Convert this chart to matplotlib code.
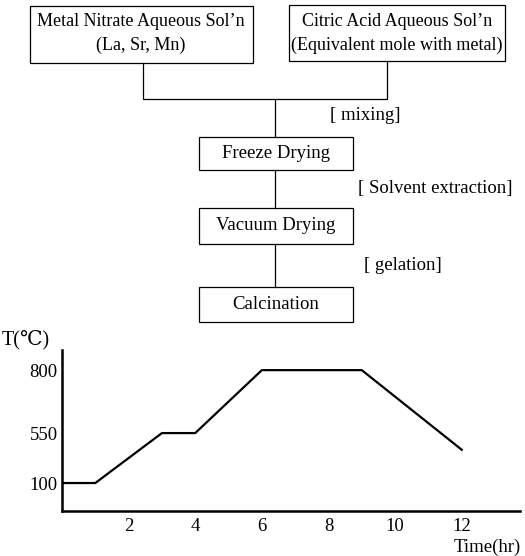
import numpy as np
import matplotlib
matplotlib.use("Agg")
import matplotlib.pyplot as plt
from matplotlib.patches import Rectangle

plt.rcParams['font.family'] = ['Liberation Serif', 'DejaVu Serif']

# --- data: calcination temperature profile ---
TIME = [0, 1, 3, 4, 6, 9, 12]
TEMP = [100, 100, 550, 550, 800, 800, 400]
X_TICKS = [2, 4, 6, 8, 10, 12]
Y_TICKS = [100, 550, 800]

# the original y axis is not to scale: piecewise mapping of temperature
T_KNOTS = [0, 100, 550, 800, 1000]
PX_KNOTS = [0, 28, 78, 141, 191.4]

# --- flowchart text ---
BOX_TOP_LEFT = ["Metal Nitrate Aqueous Sol\u2019n", "(La, Sr, Mn)"]
BOX_TOP_RIGHT = ["Citric Acid Aqueous Sol\u2019n", "(Equivalent mole with metal)"]
STEPS = ["Freeze Drying", "Vacuum Drying", "Calcination"]
STEP_NOTES = ["[ mixing]", "[ Solvent extraction]", "[ gelation]"]

W, H = 525, 556
fig = plt.figure(figsize=(W / 100, H / 100), dpi=100)

# ================= FLOWCHART (pixel coords) =================
ax0 = fig.add_axes([0, 0, 1, 1])
ax0.set_xlim(0, W)
ax0.set_ylim(H, 0)
ax0.axis('off')

LW = 0.9
FS = 13.5
FS_TOP = 13

def box(x0, y0, x1, y1):
    ax0.add_patch(Rectangle((x0, y0), x1 - x0, y1 - y0, fill=False,
                            edgecolor='black', linewidth=LW))

# top boxes
box(30, 6, 253, 63)
box(289, 5, 505, 61)
ax0.text(141, 22, BOX_TOP_LEFT[0], ha='center', va='center', fontsize=FS_TOP)
ax0.text(141, 45, BOX_TOP_LEFT[1], ha='center', va='center', fontsize=FS_TOP)
ax0.text(397, 22, BOX_TOP_RIGHT[0], ha='center', va='center', fontsize=FS_TOP)
ax0.text(397, 45, BOX_TOP_RIGHT[1], ha='center', va='center', fontsize=FS_TOP)

# connectors
cx = 275
ax0.plot([143, 143, 387, 387], [63, 99, 99, 61], color='black', lw=LW)
step_y = [(137, 170), (208, 244), (287, 322)]
ax0.plot([cx, cx], [99, step_y[0][0]], color='black', lw=LW)
for i in range(len(step_y) - 1):
    ax0.plot([cx, cx], [step_y[i][1], step_y[i + 1][0]], color='black', lw=LW)

for (y0, y1), label in zip(step_y, STEPS):
    box(199, y0, 353, y1)
    ax0.text(cx + 1, (y0 + y1) / 2, label, ha='center', va='center', fontsize=FS)

note_pos = [(330, 115), (358, 189), (364, 265)]
for (x, y), note in zip(note_pos, STEP_NOTES):
    ax0.text(x, y, note, ha='left', va='center', fontsize=FS)

# ================= TEMPERATURE PROFILE =================
ax = fig.add_axes([62 / W, 45 / H, 458 / W, 161 / H])
ax.patch.set_alpha(0)

fwd = lambda v: np.interp(v, T_KNOTS, PX_KNOTS)
inv = lambda p: np.interp(p, PX_KNOTS, T_KNOTS)
ax.set_yscale('function', functions=(fwd, inv))

ax.plot(TIME, TEMP, color='black', lw=1.6, solid_joinstyle='miter')

ax.set_xlim(0, 13.75)
ax.set_ylim(0, 880)
ax.set_xticks(X_TICKS)
ax.set_yticks(Y_TICKS)
ax.set_xticklabels([str(t) for t in X_TICKS])
ax.set_yticklabels([str(t) for t in Y_TICKS])
ax.minorticks_off()
ax.tick_params(axis='x', length=0, pad=5, labelsize=FS)
ax.tick_params(axis='y', length=0, pad=3, labelsize=FS)

for side in ['top', 'right']:
    ax.spines[side].set_visible(False)
for side in ['left', 'bottom']:
    ax.spines[side].set_linewidth(1.8)

fig.text(2 / W, 1 - 340 / H, "T(\u2103)", ha='left', va='center', fontsize=FS + 1)
fig.text(521 / W, 1 - 547 / H, "Time(hr)", ha='right', va='center', fontsize=FS)

fig.savefig("out.png", dpi=100)
